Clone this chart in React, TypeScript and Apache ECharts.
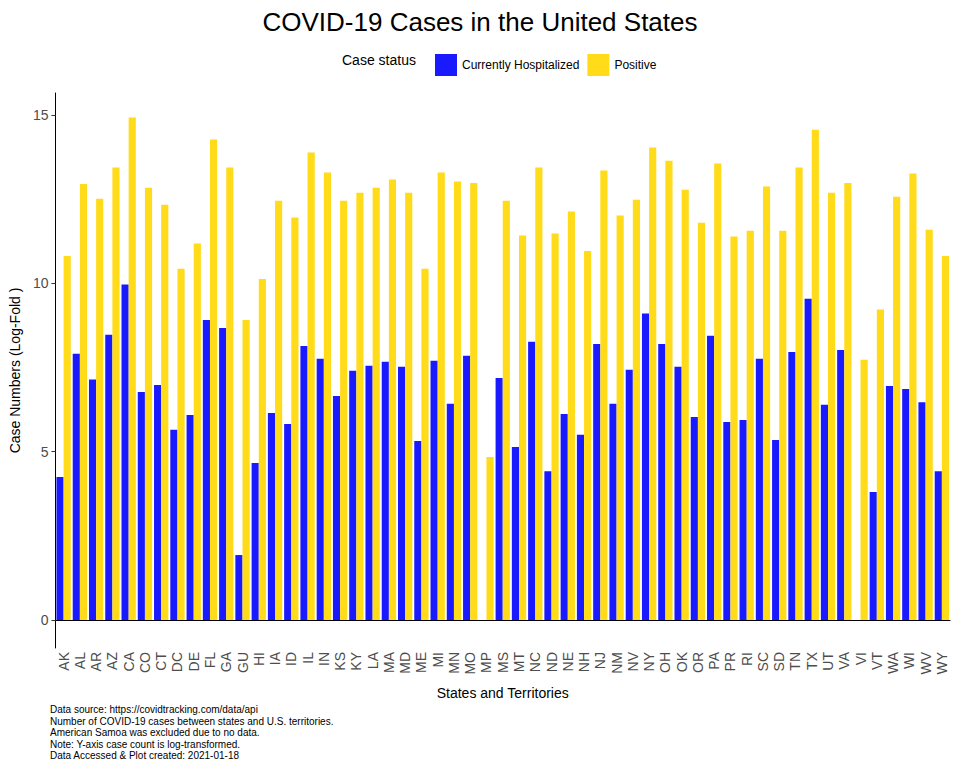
import { useEffect, useRef } from 'react';
import * as echarts from 'echarts';

const states = ['AK','AL','AR','AZ','CA','CO','CT','DC','DE','FL','GA','GU','HI','IA','ID','IL','IN','KS','KY','LA','MA','MD','ME','MI','MN','MO','MP','MS','MT','NC','ND','NE','NH','NJ','NM','NV','NY','OH','OK','OR','PA','PR','RI','SC','SD','TN','TX','UT','VA','VI','VT','WA','WI','WV','WY'];

const hospitalized = [4.25,7.91,7.14,8.47,9.96,6.77,6.98,5.65,6.09,8.91,8.67,1.93,4.66,6.15,5.82,8.14,7.76,6.65,7.4,7.55,7.67,7.52,5.32,7.7,6.42,7.85,null,7.19,5.14,8.26,4.42,6.12,5.5,8.2,6.42,7.43,9.1,8.2,7.52,6.03,8.44,5.88,5.94,7.76,5.35,7.96,9.54,6.39,8.02,null,3.8,6.95,6.86,6.47,4.42];

const positive = [10.81,12.95,12.51,13.44,14.92,12.84,12.33,10.43,11.18,14.27,13.44,8.91,10.13,12.45,11.95,13.88,13.29,12.45,12.69,12.84,13.08,12.69,10.43,13.29,13.02,12.98,4.84,12.45,11.42,13.44,11.48,12.13,10.96,13.35,12.01,12.48,14.03,13.64,12.78,11.8,13.56,11.39,11.56,12.87,11.56,13.44,14.56,12.69,12.98,7.73,9.22,12.57,13.26,11.59,10.81];

const yTicks = [0, 5, 10, 15];

const captions = [
  'Data source: https://covidtracking.com/data/api',
  'Number of COVID-19 cases between states and U.S. territories.',
  'American Samoa was excluded due to no data.',
  'Note: Y-axis case count is log-transformed.',
  'Data Accessed & Plot created: 2021-01-18',
];

const font = 'Liberation Sans, Arial, sans-serif';

const App = () => {
  const chartRef = useRef<HTMLDivElement>(null);

  useEffect(() => {
    if (!chartRef.current) return;
    const chart = echarts.init(chartRef.current, undefined, { renderer: 'svg' });

    chart.setOption({
      animation: false,
      textStyle: { fontFamily: font },
      title: {
        text: 'COVID-19 Cases in the United States',
        left: 'center',
        top: 4,
        textStyle: { fontSize: 26, fontWeight: 'normal', color: '#000', fontFamily: font },
      },
      legend: {
        data: ['Currently Hospitalized', 'Positive'],
        left: 430,
        top: 49,
        itemWidth: 22,
        itemHeight: 22,
        itemGap: 8,
        icon: 'rect',
        textStyle: { fontSize: 12, color: '#000', fontFamily: font },
      },
      graphic: [
        {
          type: 'text',
          left: 342,
          top: 53,
          style: { text: 'Case status', fontSize: 14, fill: '#000', fontFamily: font },
        },
        {
          type: 'text',
          left: 50,
          top: 704,
          style: {
            text: captions.join('\n'),
            fontSize: 10,
            lineHeight: 11.5,
            fill: '#000',
            fontFamily: font,
          },
        },
      ],
      grid: { left: 50, right: 10, top: 93, bottom: 120, containLabel: false },
      xAxis: {
        type: 'category',
        data: states,
        name: 'States and Territories',
        nameLocation: 'middle',
        nameGap: 38,
        nameTextStyle: { fontSize: 14, color: '#000' },
        axisLine: { lineStyle: { color: '#000', width: 1 } },
        axisTick: { alignWithLabel: true, lineStyle: { color: '#333' }, length: 4 },
        axisLabel: { rotate: 90, fontSize: 14, color: '#4d4d4d', margin: 4, interval: 0 },
      },
      yAxis: {
        type: 'value',
        min: -0.83,
        max: 15.65,
        name: 'Case Numbers (Log-Fold )',
        nameLocation: 'middle',
        nameGap: 30,
        nameTextStyle: { fontSize: 14, color: '#000' },
        axisLine: { show: true, lineStyle: { color: '#000', width: 1 } },
        axisTick: { show: true, customValues: yTicks, length: 4, lineStyle: { color: '#333' } },
        axisLabel: { customValues: yTicks, fontSize: 14, color: '#4d4d4d', margin: 7 },
        splitLine: { show: false },
      },
      series: [
        {
          name: 'Currently Hospitalized',
          type: 'bar',
          data: hospitalized,
          barGap: '0%',
          barCategoryGap: '12%',
          itemStyle: { color: '#1a1aff' },
        },
        {
          name: 'Positive',
          type: 'bar',
          data: positive,
          itemStyle: { color: '#ffdb19' },
        },
      ],
    });

    return () => chart.dispose();
  }, []);

  return <div ref={chartRef} style={{ width: 960, height: 768, margin: -8 }} />;
};

export default App;
